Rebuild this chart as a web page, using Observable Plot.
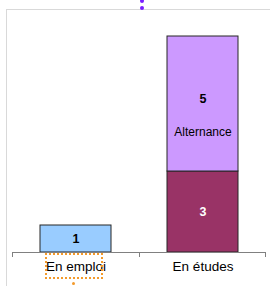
<!DOCTYPE html>
<html><head><meta charset="utf-8">
<script src="https://cdn.jsdelivr.net/npm/d3@7"></script>
<script src="https://cdn.jsdelivr.net/npm/@observablehq/plot@0.6"></script>
<style>
body{margin:0;background:#fff;font-family:"Liberation Sans",Arial,sans-serif;}
#wrap{position:relative;width:270px;height:286px;overflow:hidden;}
#frame{position:absolute;left:6px;top:9px;width:280px;height:290px;border-top:1px solid #d9d9d9;border-left:1px solid #d9d9d9;box-sizing:border-box;}
.pdot{position:absolute;width:4px;height:4px;border-radius:2px;background:#7a1fff;left:140px;}
#sel{position:absolute;left:45px;top:253px;width:58px;height:26px;border:2px dotted #f39a2b;box-sizing:border-box;}
#handle{position:absolute;left:72px;top:282px;width:3px;height:3px;background:#f39a2b;border-radius:1.5px;}
#chart{position:absolute;left:0;top:0;}
</style></head>
<body><div id="wrap"><div id="frame"></div><div class="pdot" style="top:-1px"></div><div class="pdot" style="top:6px"></div><div id="chart"></div><div id="sel"></div><div id="handle"></div></div>
<script>
const categories = ["En emploi", "En études"];
const segCategory = ["En emploi", "En études", "En études"];
const segSeries = ["Emploi", "Études", "Alternance"];
const segValues = [1, 3, 5];
const segLabels = ["", "", "Alternance"];
const seriesColors = ["#99ccff", "#993366", "#cc99ff"];
const textColors = ["#000000", "#ffffff", "#000000"];

// build stacked table
const cum = {};
const rows = segValues.map((v, i) => {
  const c = segCategory[i];
  const y1 = cum[c] || 0;
  const y2 = y1 + v;
  cum[c] = y2;
  return {cat: c, series: segSeries[i], value: v, y1, y2, mid: (y1 + y2) / 2, label: segLabels[i], tc: textColors[i]};
});
const plainRows = rows.filter(d => !d.label);
const namedRows = rows.filter(d => d.label);

const axisMarks = (index, scales, values, dim) => {
  const g = d3.create("svg:g");
  const y0 = scales.y(0);
  const x0 = dim.marginLeft, x1 = dim.width - dim.marginRight;
  g.append("line").attr("x1", x0).attr("x2", x1).attr("y1", y0 + 0.5).attr("y2", y0 + 0.5).attr("stroke", "#808080");
  const xs = [x0];
  const step = (x1 - x0) / categories.length;
  for (let i = 1; i <= categories.length; i++) xs.push(x0 + step * i);
  xs.forEach((x, i) => {
    const xx = i === xs.length - 1 ? x - 0.5 : x + 0.5;
    g.append("line").attr("x1", xx).attr("x2", xx).attr("y1", y0).attr("y2", y0 + 5).attr("stroke", "#808080");
  });
  return g.node();
};

const plot = Plot.plot({
  width: 270,
  height: 286,
  marginLeft: 12,
  marginRight: 4,
  marginTop: 9,
  marginBottom: 34,
  style: {fontFamily: "'Liberation Sans', Arial, sans-serif", background: "transparent", overflow: "visible"},
  x: {domain: categories, paddingInner: 0.44, paddingOuter: 0.22, label: null, tickSize: 0, tickPadding: 9},
  y: {domain: [0, 9], axis: null},
  color: {domain: segSeries, range: seriesColors},
  marks: [
    Plot.rectY(rows, {x: "cat", y1: "y1", y2: "y2", fill: "series", stroke: "#262626", strokeWidth: 1}),
    axisMarks,
    Plot.axisX({fontSize: 13.5, tickSize: 0, tickPadding: 9, fill: "#000"}),
    Plot.text(plainRows, {x: "cat", y: "mid", text: d => String(d.value), fill: d => d.tc, fontWeight: "bold", fontSize: 12.5}),
    Plot.text(namedRows, {x: "cat", y: "mid", text: d => String(d.value), fill: d => d.tc, fontWeight: "bold", fontSize: 12.5, dy: -5}),
    Plot.text(namedRows, {x: "cat", y: "mid", text: "label", fill: d => d.tc, fontSize: 12, dy: 28})
  ]
});
document.getElementById("chart").appendChild(plot);
</script>
</body></html>
